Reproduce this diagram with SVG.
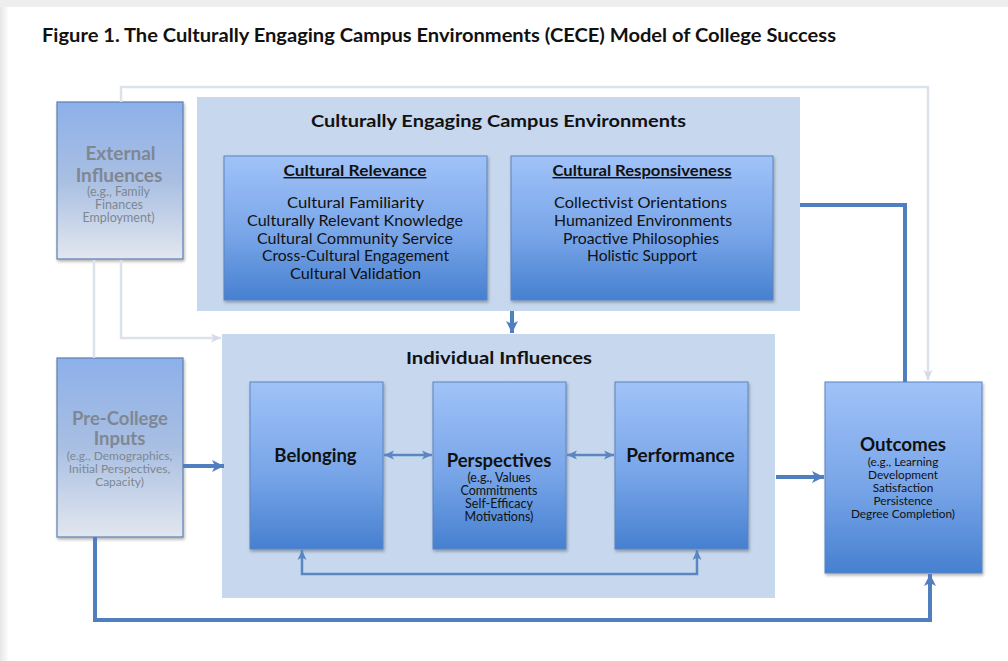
<svg xmlns="http://www.w3.org/2000/svg" width="1008" height="661" viewBox="0 0 1008 661">
<style>
.t{font-family:Lato,"Liberation Sans",sans-serif;fill:#111}
.b{font-weight:bold}
.c{text-anchor:middle}
.inner{fill:url(#gBlue);stroke:#5a84c0;stroke-width:1;filter:url(#sh)}
.outer{fill:#c6d7ee}
.pale{fill:url(#gPale);stroke:#5f7fb0;stroke-width:1.2;filter:url(#sh)}
.grey{fill:#7e8792}
.thick{fill:none;stroke:#4f7fbe;stroke-width:4}
.thin{fill:none;stroke:#5a86c2;stroke-width:2.5}
.light{fill:none;stroke:#dbe2ec;stroke-width:2.5}
</style>
<defs>
<linearGradient id="gBlue" x1="0" y1="0" x2="0" y2="1">
<stop offset="0" stop-color="#a0c2f8"/>
<stop offset="0.55" stop-color="#78a5e8"/>
<stop offset="1" stop-color="#4680d0"/>
</linearGradient>
<linearGradient id="gPale" x1="0" y1="0" x2="0" y2="1">
<stop offset="0" stop-color="#8db0ea"/>
<stop offset="0.5" stop-color="#a9bfe2"/>
<stop offset="1" stop-color="#e2e7ef"/>
</linearGradient>
<linearGradient id="gLeft" x1="0" y1="0" x2="1" y2="0">
<stop offset="0" stop-color="#e6e6e6"/>
<stop offset="1" stop-color="#ffffff"/>
</linearGradient>
<filter id="sh" x="-10%" y="-10%" width="130%" height="130%">
<feDropShadow dx="1" dy="2" stdDeviation="1.5" flood-color="#000" flood-opacity="0.3"/>
</filter>
<marker id="aThick" markerUnits="userSpaceOnUse" markerWidth="14" markerHeight="14" refX="12" refY="7" orient="auto-start-reverse">
<path d="M0,1 L12,7 L0,13 L3,7 Z" fill="#4f7fbe"/>
</marker>
<marker id="aThin" markerUnits="userSpaceOnUse" markerWidth="12" markerHeight="12" refX="10" refY="6" orient="auto-start-reverse">
<path d="M0,1.5 L10,6 L0,10.5 L2.5,6 Z" fill="#5a86c2"/>
</marker>
<marker id="aLight" markerUnits="userSpaceOnUse" markerWidth="12" markerHeight="12" refX="10" refY="6" orient="auto-start-reverse">
<path d="M0,1.5 L10,6 L0,10.5 L2.5,6 Z" fill="#d3dbe7"/>
</marker>
</defs>

<rect x="0" y="0" width="1008" height="661" fill="#ffffff"/>
<rect x="0" y="0" width="1008" height="7" fill="#eeeeee"/>
<rect x="0" y="7" width="9" height="654" fill="url(#gLeft)"/>

<text class="t b" x="42" y="42" font-size="18.5" textLength="794" lengthAdjust="spacingAndGlyphs">Figure 1. The Culturally Engaging Campus Environments (CECE) Model of College Success</text>

<g id="cece">
<rect class="outer" x="197" y="97" width="603" height="214"/>
<text class="t b c" x="498.5" y="127" font-size="17" textLength="375" lengthAdjust="spacingAndGlyphs">Culturally Engaging Campus Environments</text>
</g>

<g id="cultural-relevance">
<rect class="inner" x="224" y="156" width="263" height="144"/>
<text class="t b c" x="355" y="176" font-size="14.5" text-decoration="underline" textLength="143" lengthAdjust="spacingAndGlyphs">Cultural Relevance</text>
<text class="t c" x="355.5" y="208" font-size="15" textLength="137" lengthAdjust="spacingAndGlyphs">Cultural Familiarity</text>
<text class="t c" x="355" y="226" font-size="15" textLength="216" lengthAdjust="spacingAndGlyphs">Culturally Relevant Knowledge</text>
<text class="t c" x="355" y="244" font-size="15" textLength="196" lengthAdjust="spacingAndGlyphs">Cultural Community Service</text>
<text class="t c" x="355.5" y="261" font-size="15" textLength="187" lengthAdjust="spacingAndGlyphs">Cross-Cultural Engagement</text>
<text class="t c" x="355.5" y="279" font-size="15" textLength="131" lengthAdjust="spacingAndGlyphs">Cultural Validation</text>
</g>

<g id="cultural-responsiveness">
<rect class="inner" x="511" y="156" width="262" height="144"/>
<text class="t b c" x="642" y="176" font-size="14.5" text-decoration="underline" textLength="179" lengthAdjust="spacingAndGlyphs">Cultural Responsiveness</text>
<text class="t c" x="640.5" y="208" font-size="15" textLength="173" lengthAdjust="spacingAndGlyphs">Collectivist Orientations</text>
<text class="t c" x="643" y="226" font-size="15" textLength="178" lengthAdjust="spacingAndGlyphs">Humanized Environments</text>
<text class="t c" x="641" y="244" font-size="15" textLength="156" lengthAdjust="spacingAndGlyphs">Proactive Philosophies</text>
<text class="t c" x="642" y="261" font-size="15" textLength="110" lengthAdjust="spacingAndGlyphs">Holistic Support</text>
</g>

<g id="external-influences">
<rect class="pale" x="57" y="102" width="126" height="157"/>
<text class="t b c grey" x="120.5" y="160" font-size="19">External</text>
<text class="t b c grey" x="119" y="182" font-size="19">Influences</text>
<text class="t c grey" x="118.5" y="196" font-size="12.5">(e.g., Family</text>
<text class="t c grey" x="119" y="209" font-size="12.5">Finances</text>
<text class="t c grey" x="118.5" y="222" font-size="12.5">Employment)</text>
</g>

<g id="individual-influences">
<rect class="outer" x="222" y="334" width="553" height="264"/>
<text class="t b c" x="499" y="364" font-size="17" textLength="186" lengthAdjust="spacingAndGlyphs">Individual Influences</text>
</g>

<g id="belonging">
<rect class="inner" x="250" y="382" width="133" height="167"/>
<text class="t b c" x="315.5" y="462" font-size="18.5">Belonging</text>
</g>

<g id="perspectives">
<rect class="inner" x="433" y="382" width="133" height="167"/>
<text class="t b c" x="499" y="467" font-size="18.5">Perspectives</text>
<text class="t c" x="499" y="482" font-size="12.5">(e.g., Values</text>
<text class="t c" x="499" y="495" font-size="12.5">Commitments</text>
<text class="t c" x="499" y="508" font-size="12.5">Self-Efficacy</text>
<text class="t c" x="499" y="521" font-size="12.5">Motivations)</text>
</g>

<g id="performance">
<rect class="inner" x="615" y="382" width="133" height="167"/>
<text class="t b c" x="680.5" y="462" font-size="19">Performance</text>
</g>

<g id="pre-college-inputs">
<rect class="pale" x="57" y="358" width="126" height="179"/>
<text class="t b c grey" x="120" y="425" font-size="18.5">Pre-College</text>
<text class="t b c grey" x="119.5" y="445" font-size="18.5">Inputs</text>
<text class="t c grey" x="119.5" y="460" font-size="12">(e.g., Demographics,</text>
<text class="t c grey" x="119.5" y="473" font-size="12">Initial Perspectives,</text>
<text class="t c grey" x="119.5" y="486" font-size="12">Capacity)</text>
</g>

<g id="outcomes">
<rect class="inner" x="825" y="382" width="157" height="191"/>
<text class="t b c" x="903" y="451" font-size="18.8">Outcomes</text>
<text class="t c" x="903" y="466" font-size="11.8">(e.g., Learning</text>
<text class="t c" x="903" y="479" font-size="11.8">Development</text>
<text class="t c" x="903" y="492" font-size="11.8">Satisfaction</text>
<text class="t c" x="903" y="505" font-size="11.8">Persistence</text>
<text class="t c" x="903" y="518" font-size="11.8">Degree Completion)</text>
</g>

<g id="connectors">
<path class="light" d="M121,102 V87 H928 V380" marker-end="url(#aLight)"/>
<path class="light" d="M121,260 V338 H221" marker-end="url(#aLight)"/>
<path class="light" d="M94,260 V358"/>
<path class="thick" d="M800,205 H905 V382"/>
<path class="thick" d="M512,311 V333" marker-end="url(#aThick)"/>
<path class="thick" d="M183,466 H224" marker-end="url(#aThick)"/>
<path class="thick" d="M776,477 H824" marker-end="url(#aThick)"/>
<path class="thick" d="M95,537 V620 H930 V574" marker-end="url(#aThick)"/>
<path class="thin" d="M384,455 H432" marker-start="url(#aThin)" marker-end="url(#aThin)"/>
<path class="thin" d="M567,455 H614" marker-start="url(#aThin)" marker-end="url(#aThin)"/>
<path class="thin" d="M302,550 V574 H697 V550" marker-start="url(#aThin)" marker-end="url(#aThin)"/>
</g>
</svg>
